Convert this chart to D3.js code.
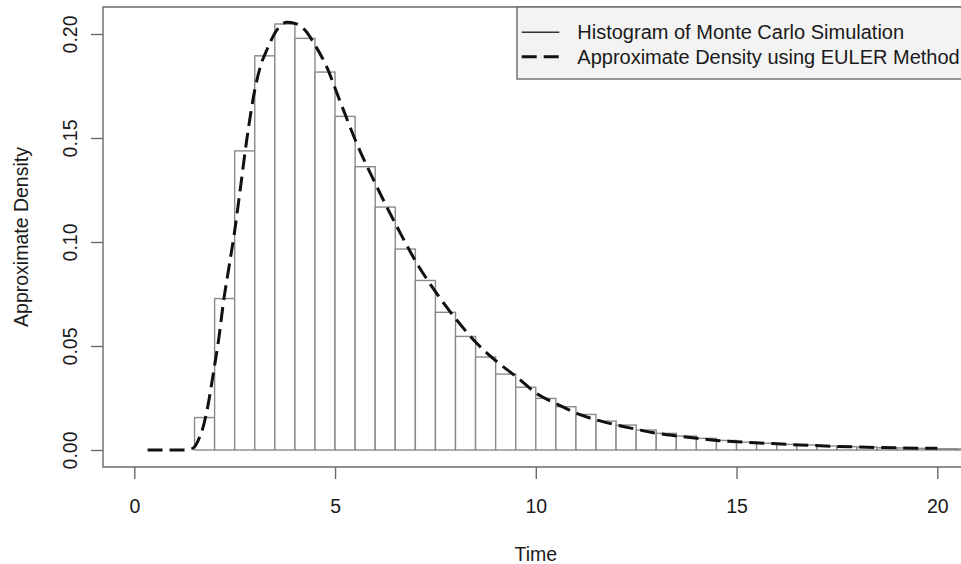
<!DOCTYPE html>
<html><head><meta charset="utf-8">
<script src="https://cdn.jsdelivr.net/npm/d3@7"></script>
<style>html,body{margin:0;padding:0;background:#fff;}svg{display:block;}</style>
</head><body><svg id="c" width="961" height="564"></svg>
<script>
// ---- data ----
const binStart = 1.5;
const binWidth = 0.5;
const histDensity = [0.0156,0.0728,0.1438,0.1895,0.2048,0.1979,0.1817,0.1604,0.1362,0.1168,
  0.0966,0.0815,0.0662,0.0546,0.0447,0.0365,0.0302,0.0248,0.0208,0.0171,
  0.0139,0.0120,0.0096,0.0080,0.0067,0.0056,0.0046,0.0038,0.0032,0.0027,
  0.0024,0.0019,0.0016,0.0014,0.0011,0.0010,0.0008,0.0006,0.0005];
const curveX = [0.33,0.8,1.2,1.4,1.5,1.6,1.68,1.8,1.97,2.1,2.22,2.35,2.49,2.65,2.8,3.01,3.15,3.3,3.55,3.8,4.0,4.25,4.5,4.79,5.08,5.54,6.04,6.54,7.04,7.53,8.03,8.53,9.03,9.53,10.03,10.53,11.02,11.52,12.02,12.52,13.02,13.52,14.01,14.51,15.01,15.76,16.59,17.42,18.25,19.08,20.0];
const curveY = [0,0,0,0.0004,0.0015,0.005,0.0088,0.018,0.037,0.053,0.071,0.087,0.104,0.127,0.149,0.174,0.185,0.1923,0.2019,0.2056,0.2051,0.2019,0.1947,0.1843,0.1699,0.1474,0.1266,0.1074,0.0897,0.0753,0.0625,0.0513,0.0425,0.0350,0.0270,0.0221,0.0176,0.0144,0.0120,0.0099,0.0080,0.0067,0.0056,0.0046,0.0040,0.0032,0.0024,0.0018,0.0013,0.0010,0.0008];
const xTicks = [0,5,10,15,20];
const yTicks = [0,0.05,0.10,0.15,0.20];
const yTickLabels = ["0.00","0.05","0.10","0.15","0.20"];
const legendLabels = ["Histogram of Monte Carlo Simulation","Approximate Density using EULER Method"];
const xTitle = "Time";
const yTitle = "Approximate Density";

// ---- drawing ----
const svg = d3.select("#c");
const font = "'Liberation Sans', Arial, Helvetica, sans-serif";
const fs = 19.5;
const box = {left:103, top:7, bottom:467, right:990};
const x = d3.scaleLinear().domain([0,20]).range([134.3,937.3]);
const y = d3.scaleLinear().domain([0,0.2]).range([450,34]);

// bars
const bars = histDensity.map((d,i)=>({x0: binStart + i*binWidth, x1: binStart + (i+1)*binWidth, d}));
svg.append("g").selectAll("rect").data(bars).join("rect")
  .attr("x", d=>x(d.x0)).attr("width", d=>x(d.x1)-x(d.x0))
  .attr("y", d=>y(d.d)).attr("height", d=>y(0)-y(d.d))
  .attr("fill","#fff").attr("stroke","#8a8a8a").attr("stroke-width",1.4);

// curve
const pts = curveX.map((v,i)=>[v,curveY[i]]);
svg.append("path").datum(pts)
  .attr("d", d3.line().x(d=>x(d[0])).y(d=>y(d[1])).curve(d3.curveMonotoneX))
  .attr("fill","none").attr("stroke","#111").attr("stroke-width",3)
  .attr("stroke-dasharray","15,7");

// box
svg.append("path")
  .attr("d", `M${box.right},${box.top}H${box.left}V${box.bottom}H${box.right}`)
  .attr("fill","none").attr("stroke","#6a6a6a").attr("stroke-width",1.4);

// x axis
const xa = svg.append("g").attr("transform",`translate(0,${box.bottom})`)
  .call(d3.axisBottom(x).tickValues(xTicks).tickSize(12).tickPadding(20).tickFormat(d3.format("d")));
xa.select(".domain").remove();
xa.selectAll("line").attr("stroke","#6a6a6a").attr("stroke-width",1.4);
xa.selectAll("text").attr("font-family",font).attr("font-size",fs).attr("fill","#1a1a1a");

// y axis
const ya = svg.append("g").attr("transform",`translate(${box.left},0)`)
  .call(d3.axisLeft(y).tickValues(yTicks).tickSize(12).tickFormat((d,i)=>yTickLabels[i]));
ya.select(".domain").remove();
ya.selectAll("line").attr("stroke","#6a6a6a").attr("stroke-width",1.4);
ya.selectAll("text").attr("font-family",font).attr("font-size",fs).attr("fill","#1a1a1a")
  .attr("text-anchor","middle").attr("dy",null).attr("x",null)
  .attr("transform","translate(-33,0) rotate(-90)").attr("dominant-baseline","central");

// titles
svg.append("text").attr("x",x(10)).attr("y",554).attr("text-anchor","middle")
  .attr("dominant-baseline","central").attr("font-family",font).attr("font-size",fs).attr("fill","#1a1a1a").text(xTitle);
svg.append("text").attr("transform",`translate(21,${(box.top+box.bottom)/2}) rotate(-90)`)
  .attr("text-anchor","middle").attr("dominant-baseline","central")
  .attr("font-family",font).attr("font-size",fs).attr("fill","#1a1a1a").text(yTitle);

// legend
const lg = svg.append("g");
lg.append("rect").attr("x",517).attr("y",box.top).attr("width",480).attr("height",72)
  .attr("fill","#f3f3f3").attr("stroke","#6a6a6a").attr("stroke-width",1.4);
const legY = [32.3, 56.7];
lg.append("line").attr("x1",521.7).attr("x2",559.3).attr("y1",legY[0]).attr("y2",legY[0])
  .attr("stroke","#333").attr("stroke-width",1.6);
lg.append("line").attr("x1",521.7).attr("x2",559.3).attr("y1",legY[1]).attr("y2",legY[1])
  .attr("stroke","#111").attr("stroke-width",3).attr("stroke-dasharray","15,7");
lg.selectAll("text.l").data(legendLabels).join("text").attr("class","l")
  .attr("x",577.3).attr("y",(d,i)=>legY[i]).attr("dominant-baseline","central")
  .attr("font-family",font).attr("font-size",20).attr("fill","#1a1a1a").text(d=>d);
</script></body></html>
